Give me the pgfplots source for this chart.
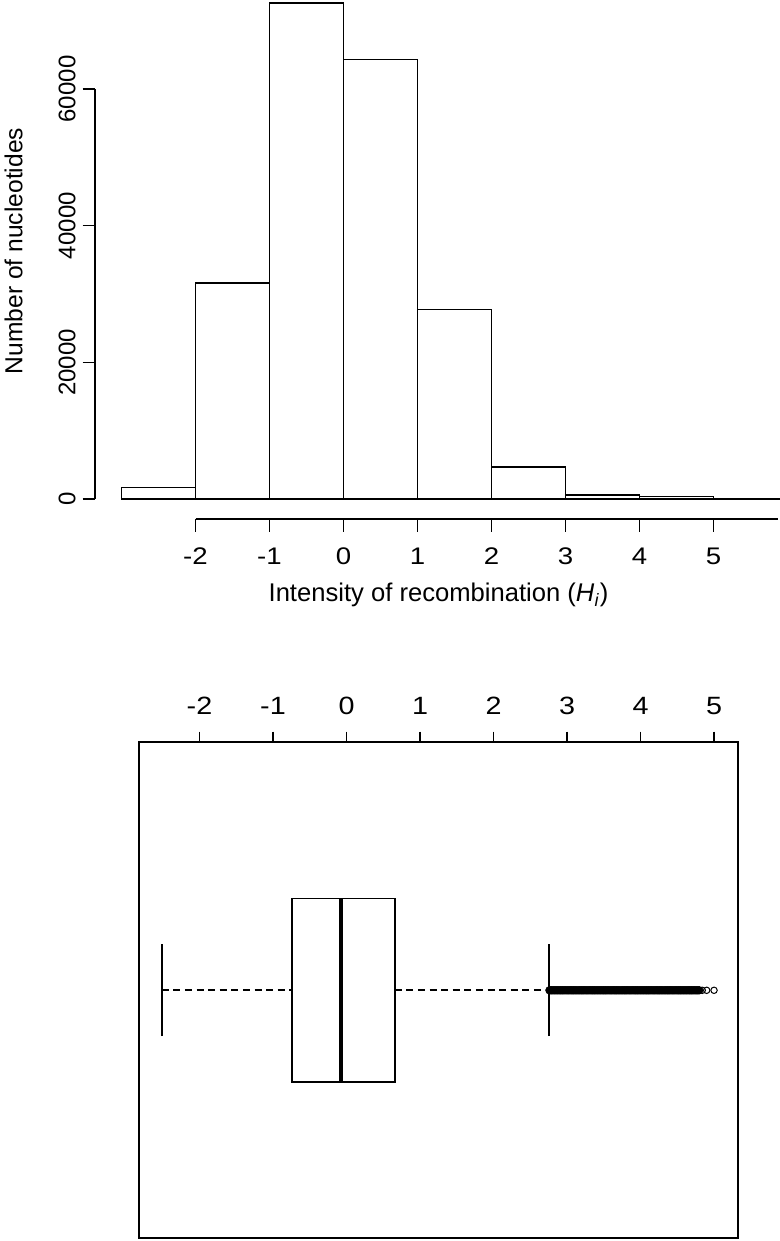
\documentclass[border=0pt]{standalone}
\usepackage{fontspec}
\setmainfont{Liberation Sans}
\usepackage{pgfplots}
\pgfplotsset{compat=1.18}
\usepgfplotslibrary{statistics}
\begin{document}
\begin{tikzpicture}[x=1pt,y=1pt]
\useasboundingbox (0,0) rectangle (390,620.5);
% ---------------- histogram: bars and y axis ----------------
\begin{axis}[
  scale only axis,
  width=341.5pt, height=205pt,
  at={(47.5pt,371pt)}, anchor=south west,
  xmin=-3.358, xmax=5.872, ymin=0, ymax=60000,
  axis y line*=left, axis x line=none,
  clip=false,
  scaled y ticks=false,
  ytick={0,20000,40000,60000},
  yticklabels={0,20000,40000,60000},
  tick align=outside,
  major tick length=6.2pt,
  axis line style={line width=0.8pt},
  every tick/.style={line width=0.8pt, black},
  yticklabel style={rotate=90, anchor=south, font=\fontsize{12}{14}\selectfont},
  ylabel={Number of nucleotides},
  ylabel style={at={(axis description cs:-0.1193,0.605)}, anchor=center, font=\fontsize{12.3}{14}\selectfont},
]
\addplot[ybar interval, draw=black, fill=white, line width=0.8pt] coordinates {
 (-3,1710) (-2,31650) (-1,72600) (0,64330) (1,27750) (2,4640) (3,585) (4,340) (5,40) (6,40)
};
\end{axis}
% ---------------- histogram: x axis ----------------
\begin{axis}[
  scale only axis,
  width=291.25pt, height=10pt,
  at={(97.75pt,360.85pt)}, anchor=south west,
  xmin=-2, xmax=5.872, ymin=0, ymax=1,
  axis x line*=bottom, axis y line=none,
  xtick={-2,-1,0,1,2,3,4,5},
  xticklabels={-2,-1,0,1,2,3,4,5},
  tick align=outside,
  major tick length=6.2pt,
  axis line style={line width=0.8pt},
  every tick/.style={line width=0.8pt, black},
  xticklabel style={font=\fontsize{12}{14}\selectfont, xscale=1.15, yshift=-4.5pt},
  xlabel={Intensity of recombination (\textit{H}\textsubscript{\textit{i}})},
  xlabel style={at={(axis description cs:0.4172,-3.80)}, anchor=center, font=\fontsize{12.8}{15}\selectfont},
]
\addplot[draw=none] coordinates {(0,0.5)};
\end{axis}
% ---------------- boxplot ----------------
\begin{axis}[
  scale only axis,
  width=299.35pt, height=248pt,
  at={(69.5pt,1.35pt)}, anchor=south west,
  xmin=-2.823, xmax=5.322, ymin=0.46, ymax=1.54,
  xtick={-2,-1,0,1,2,3,4,5},
  xticklabels={-2,-1,0,1,2,3,4,5},
  xtick pos=right, xticklabel pos=right,
  ytick=\empty,
  tick align=outside,
  major tick length=5.3pt,
  axis line style={line width=0.8pt},
  every tick/.style={line width=0.8pt, black},
  xticklabel style={font=\fontsize{12.5}{14}\selectfont, xscale=1.15, yshift=5pt},
  clip=false,
]
\addplot[black, line width=0.8pt,
  boxplot prepared={lower whisker=-2.514, lower quartile=-0.741, median=-0.075,
    upper quartile=0.656, upper whisker=2.751, draw position=1,
    box extend=0.4, whisker extend=0.2, draw direction=x},
  boxplot/every median/.style={line width=2.4pt},
  boxplot/draw/lower whisker/.code={
    \draw[dash pattern=on 3.5pt off 2.3pt]
      (boxplot box cs:\pgfplotsboxplotvalue{lower whisker},0.5) --
      (boxplot box cs:\pgfplotsboxplotvalue{lower quartile},0.5);
    \draw (boxplot whisker cs:\pgfplotsboxplotvalue{lower whisker},0) --
      (boxplot whisker cs:\pgfplotsboxplotvalue{lower whisker},1);
  },
  boxplot/draw/upper whisker/.code={
    \draw[dash pattern=on 3.5pt off 2.3pt]
      (boxplot box cs:\pgfplotsboxplotvalue{upper quartile},0.5) --
      (boxplot box cs:\pgfplotsboxplotvalue{upper whisker},0.5);
    \draw (boxplot whisker cs:\pgfplotsboxplotvalue{upper whisker},0) --
      (boxplot whisker cs:\pgfplotsboxplotvalue{upper whisker},1);
  },
] coordinates {};
% outliers (densely packed, overlapping)
\addplot[only marks, mark=*, mark size=1.9pt, mark options={draw=black, fill=black, line width=0.3pt}] coordinates {
 (2.760,1) (2.775,1) (2.790,1) (2.805,1) (2.820,1) (2.835,1) (2.850,1) (2.865,1) (2.880,1) (2.895,1)
 (2.910,1) (2.925,1) (2.940,1) (2.955,1) (2.970,1) (2.985,1) (3.000,1) (3.015,1) (3.030,1) (3.045,1)
 (3.060,1) (3.075,1) (3.090,1) (3.105,1) (3.120,1) (3.135,1) (3.150,1) (3.165,1) (3.180,1) (3.195,1)
 (3.210,1) (3.225,1) (3.240,1) (3.255,1) (3.270,1) (3.285,1) (3.300,1) (3.315,1) (3.330,1) (3.345,1)
 (3.360,1) (3.375,1) (3.390,1) (3.405,1) (3.420,1) (3.435,1) (3.450,1) (3.465,1) (3.480,1) (3.495,1)
 (3.510,1) (3.525,1) (3.540,1) (3.555,1) (3.570,1) (3.585,1) (3.600,1) (3.615,1) (3.630,1) (3.645,1)
 (3.660,1) (3.675,1) (3.690,1) (3.705,1) (3.720,1) (3.735,1) (3.750,1) (3.765,1) (3.780,1) (3.795,1)
 (3.810,1) (3.825,1) (3.840,1) (3.855,1) (3.870,1) (3.885,1) (3.900,1) (3.915,1) (3.930,1) (3.945,1)
 (3.960,1) (3.975,1) (3.990,1) (4.005,1) (4.020,1) (4.035,1) (4.050,1) (4.065,1) (4.080,1) (4.095,1)
 (4.110,1) (4.125,1) (4.140,1) (4.155,1) (4.170,1) (4.185,1) (4.200,1) (4.215,1) (4.230,1) (4.245,1)
 (4.260,1) (4.275,1) (4.290,1) (4.305,1) (4.320,1) (4.335,1) (4.350,1) (4.365,1) (4.380,1) (4.395,1)
 (4.410,1) (4.425,1) (4.440,1) (4.455,1) (4.470,1) (4.485,1) (4.500,1) (4.515,1) (4.530,1) (4.545,1)
 (4.560,1) (4.575,1) (4.590,1) (4.605,1) (4.620,1) (4.635,1) (4.650,1) (4.665,1) (4.680,1) (4.695,1)
 (4.710,1) (4.725,1) (4.740,1) (4.755,1) (4.770,1) (4.785,1) (4.800,1)
};
\addplot[only marks, mark=o, mark size=1.6pt, mark options={draw=black, line width=0.5pt}] coordinates {
 (4.84,1) (4.90,1) (5.00,1)
};
\end{axis}
\end{tikzpicture}
\end{document}
